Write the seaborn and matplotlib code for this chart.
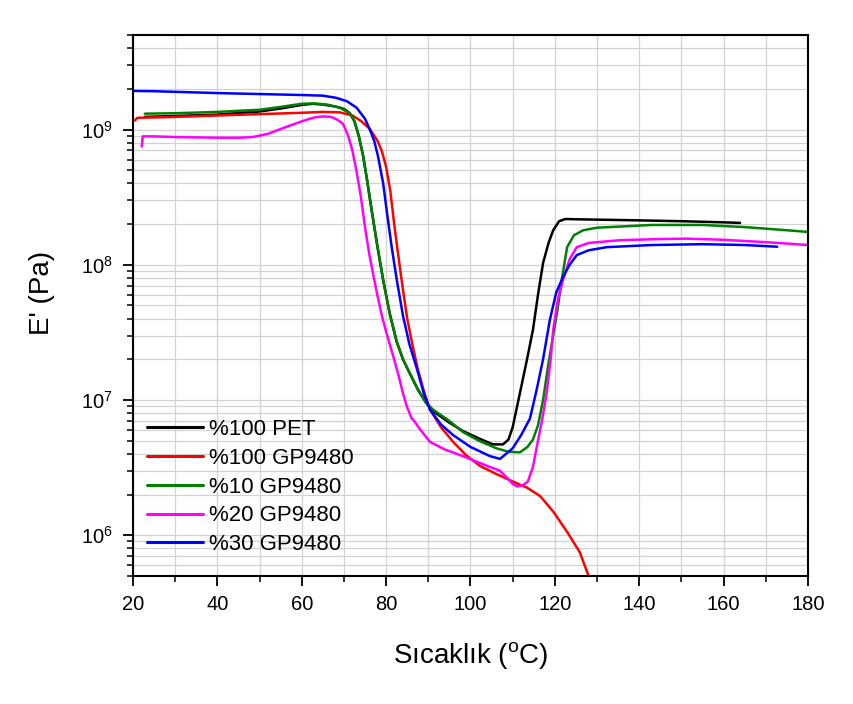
import numpy as np
import pandas as pd
import matplotlib
matplotlib.use("Agg")
import matplotlib.pyplot as plt
from matplotlib.ticker import MultipleLocator, LogLocator, NullFormatter
import seaborn as sns

# ---------------- data ----------------
labels = ["%100 PET", "%100 GP9480", "%10 GP9480", "%20 GP9480", "%30 GP9480"]
colors = ["#000000", "#ff0000", "#008000", "#ff00ff", "#0000ff"]

pet_T = [22.8, 30, 40, 50, 55, 60, 62.5, 65, 68, 70, 71.4, 72.5, 73.5, 74.5, 75.5, 76.6,
         77.8, 79.3, 80.9, 82.5, 84, 85.5, 87.5, 89.5, 91.1, 95, 98.2, 102, 105.3, 107.7,
         109, 110, 111.7, 113.4, 114.8, 116, 117.2, 118.5, 119.6, 121, 122.5, 125, 140,
         150, 160, 163.9]
pet_E = [1.24e9, 1.26e9, 1.29e9, 1.36e9, 1.43e9, 1.52e9, 1.55e9, 1.53e9, 1.48e9, 1.42e9,
         1.32e9, 1.15e9, 9.0e8, 6.5e8, 4.2e8, 2.5e8, 1.45e8, 7.7e7, 4.3e7, 2.7e7, 2.0e7,
         1.6e7, 1.2e7, 9.5e6, 8.3e6, 6.8e6, 5.9e6, 5.2e6, 4.7e6, 4.7e6, 5.1e6, 6.3e6,
         1.12e7, 2.0e7, 3.3e7, 6.0e7, 1.03e8, 1.45e8, 1.8e8, 2.1e8, 2.18e8, 2.17e8,
         2.13e8, 2.1e8, 2.06e8, 2.04e8]

gp_T = [20.5, 21, 30, 40, 50, 60, 65, 69, 72, 74, 76, 77, 78, 79, 80, 81, 82, 83, 84, 85,
        86.2, 87.5, 89, 90.4, 93, 95.9, 99, 102.3, 106, 110, 113.4, 116.5, 119.6, 122.9,
        125.9, 127.9, 128.2]
gp_E = [1.17e9, 1.22e9, 1.24e9, 1.27e9, 1.3e9, 1.33e9, 1.35e9, 1.34e9, 1.27e9, 1.16e9,
        1.02e9, 9.2e8, 8.2e8, 6.9e8, 5.3e8, 3.5e8, 1.9e8, 1.1e8, 6.5e7, 4.0e7, 2.6e7,
        1.7e7, 1.15e7, 8.5e6, 6.3e6, 4.9e6, 3.9e6, 3.25e6, 2.85e6, 2.5e6, 2.25e6,
        1.95e6, 1.5e6, 1.06e6, 7.5e5, 5.1e5, 4.8e5]

g10_T = [22.8, 30, 40, 50, 55, 60, 63, 66, 69, 71.4, 72.5, 73.5, 74.5, 75.5, 76.6, 77.8,
         79.3, 80.9, 82.5, 84, 85.5, 87.5, 89.5, 91.1, 95, 98.2, 102, 106.1, 109, 111.7,
         113.5, 114.8, 116, 117.2, 118.4, 120.5, 121.7, 122.9, 124.5, 126.7, 130, 143,
         155, 165, 172, 180]
g10_E = [1.31e9, 1.32e9, 1.35e9, 1.4e9, 1.47e9, 1.55e9, 1.56e9, 1.53e9, 1.45e9, 1.32e9,
         1.15e9, 9.0e8, 6.5e8, 4.2e8, 2.5e8, 1.45e8, 7.7e7, 4.3e7, 2.7e7, 2.0e7, 1.6e7,
         1.2e7, 9.5e6, 8.5e6, 7.0e6, 5.8e6, 5.0e6, 4.4e6, 4.15e6, 4.1e6, 4.5e6, 5.1e6,
         6.5e6, 1.0e7, 1.8e7, 4.4e7, 8.0e7, 1.35e8, 1.65e8, 1.8e8, 1.88e8, 1.97e8,
         1.97e8, 1.9e8, 1.83e8, 1.75e8]

g20_T = [22.1, 22.3, 25, 30, 40, 45, 48.4, 52, 56.5, 60, 63, 65, 67, 68.5, 69.8, 71, 72,
         73, 74, 75, 76, 77, 78, 79, 80, 81, 82, 83, 84, 85, 86, 86.8, 88, 90.4, 94,
         98.2, 101.5, 104.6, 107, 109, 110, 111, 112.5, 113.6, 114.8, 116, 117, 118,
         119, 119.6, 120.7, 121.9, 123.5, 125.2, 128, 135.4, 145, 151.3, 160, 170, 180]
g20_E = [7.5e8, 8.9e8, 8.9e8, 8.8e8, 8.7e8, 8.7e8, 8.8e8, 9.3e8, 1.05e9, 1.15e9, 1.23e9,
         1.25e9, 1.24e9, 1.18e9, 1.1e9, 9.0e8, 7.0e8, 4.9e8, 3.2e8, 1.9e8, 1.2e8, 8.3e7,
         5.8e7, 4.2e7, 3.2e7, 2.5e7, 1.95e7, 1.5e7, 1.12e7, 8.8e6, 7.4e6, 6.9e6, 6.1e6,
         4.9e6, 4.3e6, 3.85e6, 3.5e6, 3.2e6, 3.0e6, 2.6e6, 2.4e6, 2.3e6, 2.35e6, 2.5e6,
         3.2e6, 5.0e6, 7.2e6, 1.1e7, 2.0e7, 3.3e7, 5.5e7, 7.7e7, 1.1e8, 1.35e8, 1.45e8,
         1.52e8, 1.55e8, 1.56e8, 1.53e8, 1.47e8, 1.4e8]

g30_T = [20, 25, 30, 40, 50, 60, 65, 68, 70.7, 73, 75, 76.2, 77.2, 78.1, 79.3, 80.3, 81.4,
         82.6, 84, 85.5, 87.3, 89, 90.4, 93, 95.9, 100, 104.6, 107, 110, 112, 114.1,
         115.7, 117.2, 118.8, 120.3, 121.9, 123.5, 125.2, 128, 132.3, 143, 155, 165,
         172.7]
g30_E = [1.93e9, 1.92e9, 1.9e9, 1.86e9, 1.83e9, 1.8e9, 1.78e9, 1.72e9, 1.62e9, 1.45e9,
         1.2e9, 9.9e8, 8.2e8, 6.3e8, 4.0e8, 2.3e8, 1.3e8, 7.5e7, 4.2e7, 2.6e7, 1.7e7,
         1.1e7, 8.5e6, 6.6e6, 5.5e6, 4.5e6, 3.85e6, 3.67e6, 4.4e6, 5.5e6, 7.3e6, 1.2e7,
         2.0e7, 3.9e7, 6.2e7, 8.1e7, 1.0e8, 1.18e8, 1.28e8, 1.35e8, 1.4e8, 1.42e8,
         1.4e8, 1.36e8]

series_T = [pet_T, gp_T, g10_T, g20_T, g30_T]
series_E = [pet_E, gp_E, g10_E, g20_E, g30_E]

xticks = [20, 40, 60, 80, 100, 120, 140, 160, 180]

# ---------------- build long-form table ----------------
frames = []
for lab, T, E in zip(labels, series_T, series_E):
    frames.append(pd.DataFrame({"T": T, "E": E, "sample": lab}))
df = pd.concat(frames, ignore_index=True)

# ---------------- style ----------------
sns.set_theme(style="white")
plt.rcParams["font.family"] = ["Liberation Sans", "DejaVu Sans"]
plt.rcParams["mathtext.default"] = "regular"
plt.rcParams["text.color"] = "black"
plt.rcParams["axes.labelcolor"] = "black"
plt.rcParams["xtick.color"] = "black"
plt.rcParams["ytick.color"] = "black"

fig = plt.figure(figsize=(8.54, 7.04), dpi=100)
ax = fig.add_axes([133 / 854, 1 - 576 / 704, 675 / 854, 541 / 704])

sns.lineplot(data=df, x="T", y="E", hue="sample", hue_order=labels,
             palette=colors, sort=False, estimator=None, units="sample",
             lw=1.8, ax=ax)

ax.set_yscale("log")
ax.set_xlim(20, 180)
ax.set_ylim(5e5, 5e9)

ax.set_xticks(xticks)
ax.set_xticklabels([str(v) for v in xticks])
ax.xaxis.set_minor_locator(MultipleLocator(10))
ax.yaxis.set_major_locator(LogLocator(base=10, numticks=20))
ax.yaxis.set_minor_locator(LogLocator(base=10, subs=np.arange(2, 10), numticks=20))
ax.yaxis.set_minor_formatter(NullFormatter())

ax.grid(which="both", color="#d2d2d2", lw=0.9)
ax.set_axisbelow(True)

for s in ax.spines.values():
    s.set_color("black")
    s.set_linewidth(1.5)

ax.tick_params(which="both", direction="out", top=False, right=False,
               left=True, bottom=True, colors="black")
ax.tick_params(which="major", length=7.5, width=1.3, labelsize=14.5)
ax.tick_params(which="minor", length=4, width=1.1)
ax.tick_params(axis="x", which="major", pad=6)
ax.tick_params(axis="y", which="major", pad=7)

ax.set_xlabel(r"Sıcaklık ($\mathregular{^{o}}$C)", fontsize=20)
ax.set_ylabel("E' (Pa)", fontsize=20)
ax.xaxis.set_label_coords(0.5, -0.118)
ax.yaxis.set_label_coords(-0.1156, 0.523)

sns.move_legend(ax, "upper left", bbox_to_anchor=(0.021, 0.290), frameon=False,
                title=None, fontsize=16, handlelength=2.5, handletextpad=0.3,
                labelspacing=0.35, borderaxespad=0, borderpad=0)
for line in ax.get_legend().get_lines():
    line.set_linewidth(2.2)

fig.savefig("out.png", dpi=100)
